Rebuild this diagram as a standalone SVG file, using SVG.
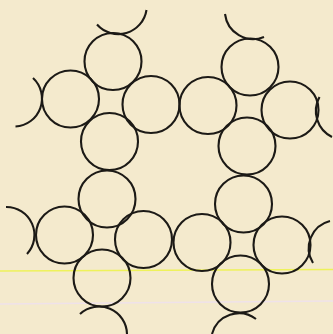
<svg xmlns="http://www.w3.org/2000/svg" width="333" height="334" viewBox="0 0 333 334">
<style>
.c{fill:none;stroke:#1c1a16;stroke-width:2.1}
</style>
<rect x="0" y="0" width="333" height="334" fill="#f4eacd"/>
<line x1="0" y1="271" x2="333" y2="269.5" stroke="#eef25a" stroke-width="1.6"/>
<line x1="0" y1="304" x2="333" y2="301" stroke="#efe2ea" stroke-width="1.4"/>
<g id="clusterA">
<circle class="c" cx="113" cy="61.5" r="28.5"/>
<circle class="c" cx="70.5" cy="99" r="28.5"/>
<circle class="c" cx="151" cy="104.5" r="28.5"/>
<circle class="c" cx="109.5" cy="141.5" r="28.5"/>
</g>
<g id="clusterB">
<circle class="c" cx="208" cy="105.5" r="28.5"/>
<circle class="c" cx="250" cy="67" r="28.5"/>
<circle class="c" cx="290" cy="110" r="28.5"/>
<circle class="c" cx="247" cy="146" r="28.5"/>
</g>
<g id="clusterC">
<circle class="c" cx="107" cy="199" r="28.5"/>
<circle class="c" cx="64.5" cy="235" r="28.5"/>
<circle class="c" cx="143.5" cy="239.5" r="28.5"/>
<circle class="c" cx="102" cy="278" r="28.5"/>
</g>
<g id="clusterD">
<circle class="c" cx="243.5" cy="204" r="28.5"/>
<circle class="c" cx="202" cy="242.5" r="28.5"/>
<circle class="c" cx="282" cy="245" r="28.5"/>
<circle class="c" cx="240.5" cy="284" r="28.5"/>
</g>
<g id="arcs">
<path class="c" d="M97 24.5 A28.5 28.5 0 0 0 146.5 10"/>
<path class="c" d="M33 78 A28 28 0 0 1 15.5 126.5"/>
<path class="c" d="M225 14 A28.5 28.5 0 0 0 264 37"/>
<path class="c" d="M319.5 97 A29 29 0 0 0 332 137"/>
<path class="c" d="M6 207 A28 28 0 0 1 27 254"/>
<path class="c" d="M80 314 A28 28 0 0 1 127 334"/>
<path class="c" d="M330 221 A28 28 0 0 0 313 263"/>
<path class="c" d="M212 334 A28 28 0 0 1 256 319"/>
</g>
</svg>
